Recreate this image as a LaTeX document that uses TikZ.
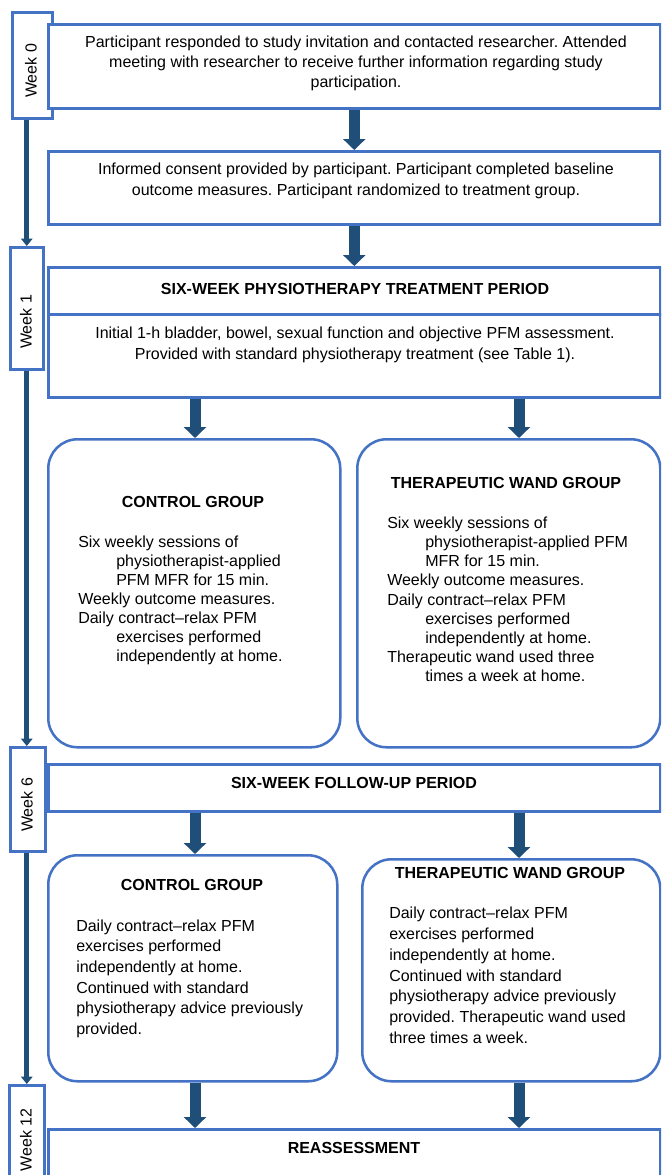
\documentclass[tikz,border=0pt]{standalone}
\usepackage{fontspec}
\setmainfont{Liberation Sans}
\usetikzlibrary{arrows.meta}
\frenchspacing
\definecolor{boxblue}{RGB}{68,114,196}
\definecolor{arrblue}{RGB}{31,78,121}
\newcommand{\ind}{\hspace*{28.5pt}}
\tikzset{
  box/.style={draw=boxblue, line width=1.9pt, fill=white, inner sep=0pt, anchor=north west},
  rbox/.style={box, rounded corners=22pt},
  bigarrow/.style={draw=arrblue, line width=8.25pt, -{Triangle[width=16.5pt,length=8.25pt]}},
  timearrow/.style={draw=arrblue, line width=3.6pt, -{Triangle[width=8.5pt,length=5.5pt]}},
  txt/.style={inner sep=0pt, font=\fontsize{12}{15}\selectfont, align=center},
  head/.style={inner sep=0pt, font=\fontsize{12}{15}\selectfont\bfseries},
  ltxt/.style={inner sep=0pt, anchor=north west, align=left},
  wtxt/.style={inner sep=0pt, font=\fontsize{12}{14}\selectfont, rotate=90}
}
\begin{document}
\begin{tikzpicture}[x=0.75pt,y=-0.75pt]
\useasboundingbox (0,0) rectangle (661,1175);
\clip (0,0) rectangle (661,1175);
\fill[white] (0,0) rectangle (661,1175);
% week boxes
\node[box, minimum width={40*0.75pt}, minimum height={106*0.75pt}] (w0) at (11,11) {};
\node[box, minimum width={33*0.75pt}, minimum height={122*0.75pt}] (w1) at (9,246) {};
\node[box, minimum width={35*0.75pt}, minimum height={104*0.75pt}] (w6) at (9,746) {};
\node[box, minimum width={35*0.75pt}, minimum height={120*0.75pt}] (w12) at (8,1084) {};
\node[wtxt] (tw0) at (31,71) {Week 0};
\node[wtxt] (tw1) at (26,322) {Week 1};
\node[wtxt] (tw6) at (27,805) {Week 6};
\node[wtxt] (tw12) at (26,1140) {Week 12};
% main boxes
\node[box, minimum width={612*0.75pt}, minimum height={84*0.75pt}] (b1) at (47,23) {};
\node[box, minimum width={612*0.75pt}, minimum height={73*0.75pt}] (b2) at (47,150) {};
\node[box, minimum width={612*0.75pt}, minimum height={47*0.75pt}] (b3a) at (47,266) {};
\node[box, minimum width={612*0.75pt}, minimum height={83*0.75pt}] (b3b) at (47,313) {};
\node[rbox, minimum width={292*0.75pt}, minimum height={308*0.75pt}] (g1l) at (47,438) {};
\node[rbox, minimum width={303*0.75pt}, minimum height={308*0.75pt}] (g1r) at (356,438) {};
\node[box, minimum width={612*0.75pt}, minimum height={47*0.75pt}] (b4) at (47,763) {};
\node[rbox, minimum width={289*0.75pt}, minimum height={226*0.75pt}] (g2l) at (47,854) {};
\node[rbox, minimum width={298*0.75pt}, minimum height={222*0.75pt}] (g2r) at (361,858) {};
\node[box, minimum width={612*0.75pt}, minimum height={80*0.75pt}] (b5) at (47,1128) {};
% texts
\node[txt] (t1) at (356,63) {Participant responded to study invitation and contacted researcher. Attended\\meeting with researcher to receive further information regarding study\\participation.};
\node[txt, font=\fontsize{12}{15.75}\selectfont] (t2) at (356,181) {Informed consent provided by participant. Participant completed baseline\\outcome measures. Participant randomized to treatment group.};
\node[head] (t3a) at (355,289) {SIX-WEEK PHYSIOTHERAPY TREATMENT PERIOD};
\node[txt, font=\fontsize{12}{15.75}\selectfont] (t3b) at (355,344.5) {Initial 1-h bladder, bowel, sexual function and objective PFM assessment.\\Provided with standard physiotherapy treatment (see Table 1).};
\node[head] (h1l) at (193,502) {CONTROL GROUP};
\node[ltxt, font=\fontsize{12}{14.3}\selectfont] (x1l) at (78,535.5) {Six weekly sessions of\\\ind physiotherapist-applied\\\ind PFM MFR for 15 min.\\Weekly outcome measures.\\Daily contract–relax PFM\\\ind exercises performed\\\ind independently at home.};
\node[head] (h1r) at (506,483) {THERAPEUTIC WAND GROUP};
\node[ltxt, font=\fontsize{12}{14.4}\selectfont] (x1r) at (387,516.5) {Six weekly sessions of\\\ind physiotherapist-applied PFM\\\ind MFR for 15 min.\\Weekly outcome measures.\\Daily contract–relax PFM\\\ind exercises performed\\\ind independently at home.\\Therapeutic wand used three\\\ind times a week at home.};
\node[head] (t4) at (354,783) {SIX-WEEK FOLLOW-UP PERIOD};
\node[head] (h2l) at (192,885) {CONTROL GROUP};
\node[ltxt, font=\fontsize{12}{15.5}\selectfont] (x2l) at (76,919.2) {Daily contract–relax PFM\\exercises performed\\independently at home.\\Continued with standard\\physiotherapy advice previously\\provided.};
\node[head] (h2r) at (510,873) {THERAPEUTIC WAND GROUP};
\node[ltxt, font=\fontsize{12}{15.6}\selectfont] (x2r) at (389,906.8) {Daily contract–relax PFM\\exercises performed\\independently at home.\\Continued with standard\\physiotherapy advice previously\\provided. Therapeutic wand used\\three times a week.};
\node[head] (t5) at (354,1148) {REASSESSMENT};
% connectors
\coordinate (xl) at (195,0);
\coordinate (xr) at (519,0);
\draw[timearrow] (w1.north |- w0.south) -- (w1.north);
\draw[timearrow] (w1.south) -- (w1.south |- w6.north);
\draw[timearrow] (w12.north |- w6.south) -- (w12.north);
\draw[bigarrow] (b1.south) -- (b2.north);
\draw[bigarrow] (b2.south) -- (b3a.north);
\draw[bigarrow] (b3b.south -| xl) -- (g1l.north -| xl);
\draw[bigarrow] (b3b.south -| xr) -- (g1r.north -| xr);
\draw[bigarrow] (b4.south -| xl) -- (g2l.north -| xl);
\draw[bigarrow] (b4.south -| xr) -- (g2r.north -| xr);
\draw[bigarrow] (g2l.south -| xl) -- (b5.north -| xl);
\draw[bigarrow] (g2r.south -| xr) -- (b5.north -| xr);
\end{tikzpicture}
\end{document}
